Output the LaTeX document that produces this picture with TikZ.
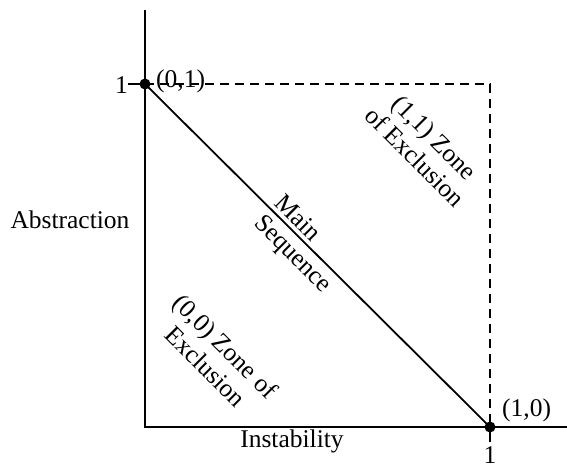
\documentclass[tikz,border=0pt]{standalone}
\usepackage{fontspec}
\setmainfont{Liberation Serif}
\begin{document}
\begin{tikzpicture}[x=1pt,y=-1pt,
  axis/.style={line width=1.8pt},
  lbl/.style={inner sep=0pt,font=\fontsize{25.5}{28}\selectfont},
  diag/.style={lbl,rotate=-45},
  dot/.style={circle,fill=black,inner sep=0pt,minimum size=11pt}]
\useasboundingbox (0,0) rectangle (567,464);
\coordinate (top) at (145,10);
\coordinate (O) at (145,427);
\coordinate (xend) at (567,427);
\coordinate (ytick) at (128,84);
\coordinate (xtick) at (490,442);
\node[dot] (p01) at (145,84) {};
\node[dot] (p10) at (490,427) {};
\coordinate (p11) at (490,84);
\draw[axis] (top) -- (O) -- (xend);
\draw[axis] (ytick) -- (p01.center);
\draw[axis] (p10.center) -- (xtick);
\draw[axis,dash pattern=on 9pt off 6pt] (p01.center) -- (p11) -- (p10.center);
\draw[axis] (p01.center) -- (p10.center);
\node[lbl,anchor=east] (l1) at (128,85) {1};
\node[lbl,anchor=west] (l01) at (156,81) {(0,1)};
\node[lbl,anchor=west] (l10) at (502,410) {(1,0)};
\node[lbl] (lx1) at (490,455) {1};
\node[lbl] (xl) at (292,441) {Instability};
\node[lbl] (yl) at (70,220) {Abstraction};
\node[diag,align=left] (ms) at (302,245) {Main\\Sequence};
\node[diag,align=center] (z11) at (425,147) {(1,1) Zone\\of Exclusion};
\node[diag,align=center] (z00) at (216,356) {(0,0) Zone of\\Exclusion};
\end{tikzpicture}
\end{document}
